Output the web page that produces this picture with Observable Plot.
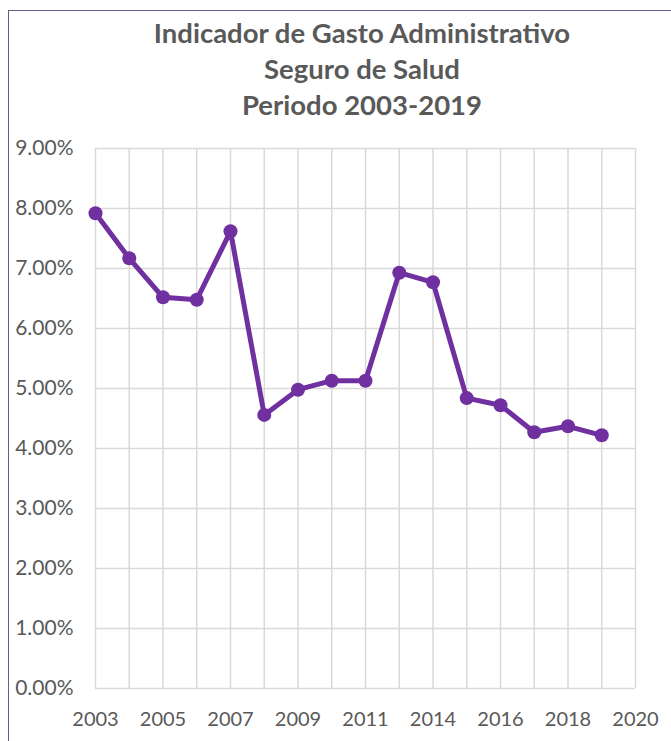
<!DOCTYPE html>
<html>
<head>
<meta charset="utf-8">
<script src="https://cdn.jsdelivr.net/npm/d3@7"></script>
<script src="https://cdn.jsdelivr.net/npm/@observablehq/plot@0.6"></script>
<style>
  html, body { margin: 0; padding: 0; background: #fff; }
  body { width: 671px; height: 741px; overflow: hidden; position: relative; font-family: Lato, "Open Sans", sans-serif; }
  #frame { position: absolute; left: 8px; top: 10px; width: 720px; height: 800px;
           border-left: 1.5px solid #6b5b8c; border-top: 1.5px solid #6b5b8c; }
  #title { position: absolute; left: 0; top: 15px; width: 724px; text-align: center;
           color: #595959; font-weight: bold; font-size: 27.5px; line-height: 36px; }
  #chart { position: absolute; left: 0; top: 128px; }
</style>
</head>
<body>
<div id="frame"></div>
<div id="title">Indicador de Gasto Administrativo<br>Seguro de Salud<br>Periodo 2003-2019</div>
<div id="chart"></div>
<script>
// Data (fractions); x is the category position
const positions = [0, 1, 2, 3, 4, 5, 6, 7, 8, 9, 10, 11, 12, 13, 14, 15];
const values = [0.0792, 0.0717, 0.0652, 0.0648, 0.0762, 0.0456, 0.0498, 0.0513, 0.0513, 0.0693, 0.0677, 0.0484, 0.0472, 0.0427, 0.0437, 0.0422];
const gridPositions = [0, 1, 2, 3, 4, 5, 6, 7, 8, 9, 10, 11, 12, 13, 14, 15, 16];
const labelPositions = [0, 2, 4, 6, 8, 10, 12, 14, 16];
const tickLabels = ["2003", "2005", "2007", "2009", "2011", "2014", "2016", "2018", "2020"];
const yTicks = [0, 0.01, 0.02, 0.03, 0.04, 0.05, 0.06, 0.07, 0.08, 0.09];

const data = positions.map((p, i) => ({x: p, y: values[i]}));
const labelOf = new Map(labelPositions.map((p, i) => [p, tickLabels[i]]));

const plot = Plot.plot({
  width: 671,
  height: 613,
  marginLeft: 95,
  marginRight: 36,
  marginTop: 20,
  marginBottom: 53,
  style: { fontFamily: "Lato, 'Open Sans', sans-serif", background: "transparent", overflow: "visible" },
  x: { domain: [0, 16], axis: null },
  y: { domain: [0, 0.09], axis: null },
  marks: [
    Plot.gridX(gridPositions, { stroke: "#d9d9d9", strokeOpacity: 1, strokeWidth: 1.5 }),
    Plot.gridY(yTicks, { stroke: "#d9d9d9", strokeOpacity: 1, strokeWidth: 1.5 }),
    Plot.axisY(yTicks, { label: null, tickSize: 0, tickPadding: 0, dx: -22, tickFormat: d => (d * 100).toFixed(2) + "%", fontSize: 21, fill: "#595959", textAnchor: "end" }),
    Plot.axisX(labelPositions, { label: null, tickSize: 0, tickPadding: 0, dy: 23, tickFormat: d => labelOf.get(d), fontSize: 20, fill: "#595959" }),
    Plot.line(data, { x: "x", y: "y", stroke: "#7030a0", strokeWidth: 5, strokeLinejoin: "round" }),
    Plot.dot(data, { x: "x", y: "y", r: 7, fill: "#7030a0", stroke: "none" })
  ]
});
document.getElementById("chart").appendChild(plot);
</script>
</body>
</html>
